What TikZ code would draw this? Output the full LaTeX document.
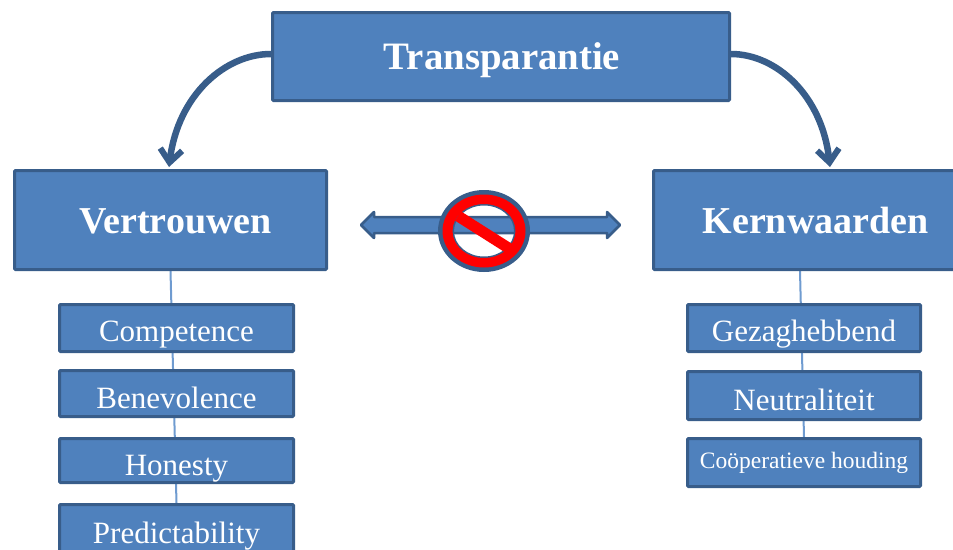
\documentclass[tikz,border=0pt]{standalone}
\usepackage{fontspec}
\setmainfont{Liberation Serif}
\usetikzlibrary{arrows.meta,backgrounds}
\definecolor{boxfill}{HTML}{4F81BD}
\definecolor{boxline}{HTML}{385D8A}
\definecolor{linklight}{HTML}{6F9BD0}
\tikzset{
  box/.style={draw=boxline,line width=3pt,fill=boxfill,text=white,inner sep=0pt,rounded corners=1pt,anchor=north west,align=center},
  bigbox/.style={box,font=\fontsize{38}{40}\selectfont\bfseries,text height=27pt,text depth=0pt},
  subbox/.style={box,font=\fontsize{31}{34}\selectfont,minimum width=234pt,text height=33pt,text depth=6pt},
  curvearrow/.style={draw=boxline,line width=6.5pt,-{Straight Barb[length=13pt,width=22pt,line width=6pt]}},
  trunk/.style={draw=linklight,line width=2pt},
  blockarrow/.style={draw=boxline,line width=2.5pt,fill=boxfill,line join=round}
}
\begin{document}
\begin{tikzpicture}[x=1pt,y=-1pt]
\useasboundingbox (0,0) rectangle (953,549);
\clip (0,0) rectangle (953,549);
\node[bigbox,minimum width=457pt,minimum height=88pt,text height=26pt,font=\fontsize{38.8}{40}\selectfont\bfseries] (top) at (271,11) {\hspace*{2pt}Transparantie};
\node[bigbox,minimum width=312pt,minimum height=99pt] (vert) at (13,169) {\hspace*{10pt}Vertrouwen};
\node[bigbox,minimum width=324pt,minimum height=99pt] (kern) at (652,169) {Kernwaarden};
\coordinate (kernroot) at (800,271);
\node[subbox,minimum height=47pt] (comp) at (58,303) {Competence};
\node[subbox,minimum height=46pt,text height=35pt] (bene) at (58,369) {Benevolence};
\node[subbox,minimum height=44pt,text height=35pt] (hone) at (58,437) {Honesty};
\node[subbox,minimum height=47pt,text height=37pt] (pred) at (58,503) {Predictability};
\node[subbox,minimum height=47pt,minimum width=233pt] (geza) at (686,303) {Gezaghebbend};
\node[subbox,minimum height=48pt,minimum width=233pt,text height=35pt] (neut) at (686,370) {Neutraliteit};
\node[subbox,minimum height=48pt,minimum width=233pt,font=\fontsize{23.5}{26}\selectfont,text height=20pt,text depth=9pt] (coop) at (686,437) {Coöperatieve houding};
\begin{scope}[on background layer]
\draw[trunk] (vert.south) -- (pred.north);
\draw[trunk] (kernroot) -- (coop.north);
\end{scope}
\coordinate (vin) at (169,167);
\coordinate (kin) at (830,167);
\draw[curvearrow] ([yshift=2.5pt]top.west) .. controls (225,54) and (178,95) .. (vin);
\draw[curvearrow] ([yshift=2.5pt]top.east) .. controls (776,54) and (822,95) .. (kin);
\coordinate (linkL) at (361,225);
\coordinate (linkR) at (620,225);
\draw[blockarrow] (linkL) -- ++(13,-13) -- ++(0,5) -- ([shift={(-13,-8)}]linkR) -- ++(0,-5) -- (linkR) -- ++(-13,13) -- ++(0,-5) -- ([shift={(13,8)}]linkL) -- ++(0,5) -- cycle;
\coordinate (forbid) at (484,231);
\fill[boxline,even odd rule] (forbid) ellipse [x radius=46,y radius=41] (forbid) ellipse [x radius=30,y radius=25.5];
\fill[red,even odd rule] (forbid) ellipse [x radius=41.5,y radius=36.5] (forbid) ellipse [x radius=31.5,y radius=27];
\draw[red,line width=11pt] (458,216) -- (510,249);
\end{tikzpicture}
\end{document}
